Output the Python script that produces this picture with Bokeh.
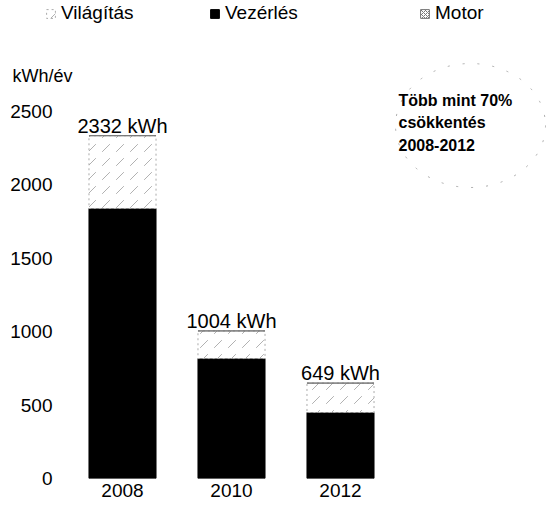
from bokeh.plotting import figure
from bokeh.models import (Range1d, FixedTicker, Legend, LegendItem, Label, ColumnDataSource)
from bokeh.core.properties import value
from bokeh.embed import file_html
from bokeh.resources import INLINE

# ---- data ----
years = ["2008", "2010", "2012"]
xpos = [0, 1, 2]
vezerles = [1837, 816, 449]       # black segment
vilagitas = [495, 188, 200]       # stippled upper segment
motor = [0, 0, 0]                 # not visible
totals = [2332, 1004, 649]
value_labels = ["2332 kWh", "1004 kWh", "649 kWh"]
y_ticks = [0, 500, 1000, 1500, 2000, 2500]
note_lines = ["Több mint 70%", "csökkentés", "2008-2012"]

FONT = "Liberation Sans"
PX_X = 109.0      # pixels per x unit
PX_Y = 0.147      # pixels per kWh
X0 = 122.0        # pixel of x=0
Y0 = 478.0        # pixel of y=0

src = ColumnDataSource(dict(
    x=xpos,
    vez=vezerles,
    vil_bottom=vezerles,
    vil_top=[a + b for a, b in zip(vezerles, vilagitas)],
    mot_bottom=[a + b for a, b in zip(vezerles, vilagitas)],
    mot_top=[a + b + c for a, b, c in zip(vezerles, vilagitas, motor)],
    tot=totals,
    lab=value_labels,
))

p = figure(width=551, height=506, output_backend="svg", toolbar_location=None,
           x_range=Range1d(-X0 / PX_X, (551 - X0) / PX_X),
           y_range=Range1d(0, Y0 / PX_Y),
           min_border_left=0, min_border_right=0, min_border_top=0,
           min_border_bottom=28)
p.outline_line_color = None
p.background_fill_color = "white"
p.border_fill_color = "white"
p.xgrid.visible = False
p.ygrid.visible = False

W = 0.615
r_vez = p.vbar(x="x", top="vez", bottom=0, width=W, source=src,
               fill_color="black", line_color="black")
r_vil = p.vbar(x="x", top="vil_top", bottom="vil_bottom", width=W, source=src,
               fill_color="white", line_color="#aaaaaa", line_dash="2 3",
               hatch_pattern="right_diagonal_dash", hatch_color="#b0b0b0",
               hatch_scale=14, hatch_weight=1)
r_mot = p.vbar(x="x", top="mot_top", bottom="mot_bottom", width=W, source=src,
               fill_color="white", line_color="#777777",
               hatch_pattern="diagonal_cross", hatch_color="#777777",
               hatch_scale=4, hatch_weight=1)

p.text(x="x", y="tot", text="lab", source=src, text_align="center",
       text_baseline="bottom", y_offset=1, text_font=value(FONT),
       text_font_size="20px", text_color="black")

# axes
p.xaxis.ticker = FixedTicker(ticks=xpos)
p.xaxis.major_label_overrides = {x: y for x, y in zip(xpos, years)}
p.yaxis.ticker = FixedTicker(ticks=y_ticks)
for ax in (p.xaxis, p.yaxis):
    ax.axis_line_color = None
    ax.minor_tick_line_color = None
    ax.major_tick_line_color = None
    ax.major_tick_out = 0
    ax.major_tick_in = 0
    ax.major_label_text_font = FONT
    ax.major_label_text_font_size = "19px"
    ax.major_label_text_color = "black"
p.xaxis.major_label_standoff = 5
# y tick labels drawn into the (full-width) frame, right-aligned near x=52
p.yaxis.major_label_standoff = -52

# unit label
p.add_layout(Label(x=(12 - X0) / PX_X, y=(Y0 - 75) / PX_Y, text="kWh/év",
                   text_font=FONT, text_font_size="18px", text_color="black",
                   text_baseline="middle", text_align="left"))

# note with dashed ellipse
p.ellipse(x=[(470 - X0) / PX_X], y=[(Y0 - 125) / PX_Y],
          width=[150 / PX_X], height=[124 / PX_Y],
          fill_color=None, line_color="#aaaaaa", line_dash="2 13")
for i, t in enumerate(note_lines):
    p.add_layout(Label(x=(398 - X0) / PX_X, y=(Y0 - 100 - 22 * i) / PX_Y,
                       text=t, text_font=FONT, text_font_size="16px",
                       text_font_style="bold", text_color="black",
                       text_baseline="middle", text_align="left"))

# legend: three single-item legends at their own positions
def add_leg(label, rend, xloc):
    leg = Legend(items=[LegendItem(label=label, renderers=[rend])],
                 location=(xloc, Y0 - 24), orientation="horizontal",
                 padding=0, margin=0, spacing=0,
                 border_line_color=None, background_fill_alpha=0,
                 glyph_width=11, glyph_height=11, label_standoff=5,
                 label_text_font=FONT, label_text_font_size="19px",
                 label_text_color="black", label_height=20)
    p.add_layout(leg, "center")

add_leg("Világítás", r_vil, 45)
add_leg("Vezérlés", r_vez, 209)
add_leg("Motor", r_mot, 419)

open("out.html", "w").write(file_html(p, INLINE))
